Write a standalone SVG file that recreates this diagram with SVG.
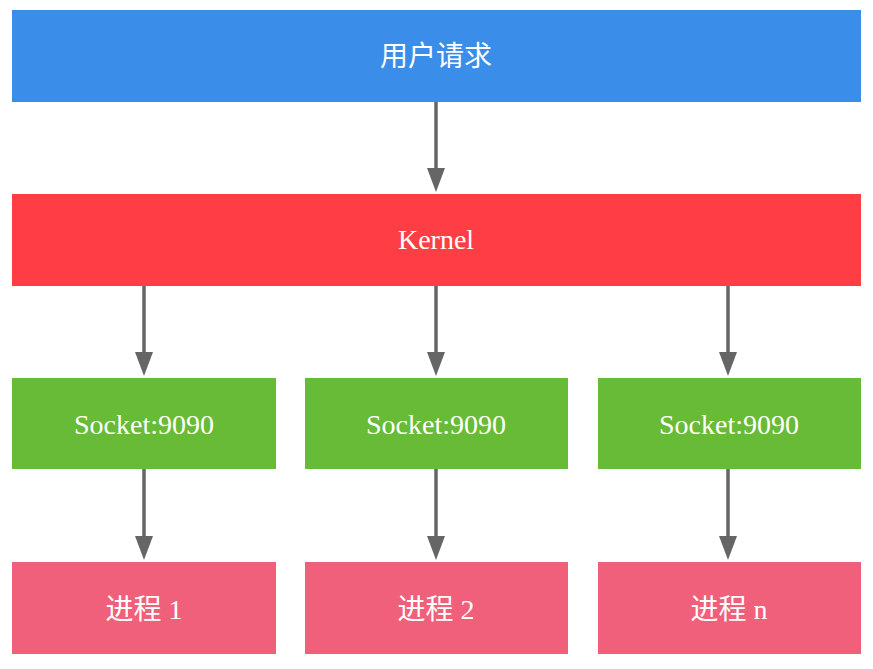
<svg xmlns="http://www.w3.org/2000/svg" width="873" height="669" viewBox="0 0 873 669">
<style>
.t{font-family:"Liberation Serif","Noto Sans CJK SC",serif;font-size:28px;fill:#ffffff;text-anchor:middle}
.c{stroke:#666666;stroke-width:3.5;fill:none}
.h{fill:#666666}
.blue{fill:#3B8DEA}.red{fill:#FE3D44}.green{fill:#67BB36}.pink{fill:#F1607A}
</style>
<rect width="873" height="669" fill="#ffffff"/>
<g id="connectors">
<line class="c" x1="436" y1="102" x2="436" y2="170"/><polygon class="h" points="427,168 445,168 436,192"/>
<line class="c" x1="144" y1="286" x2="144" y2="354"/><polygon class="h" points="135,352 153,352 144,376"/>
<line class="c" x1="436" y1="286" x2="436" y2="354"/><polygon class="h" points="427,352 445,352 436,376"/>
<line class="c" x1="728" y1="286" x2="728" y2="354"/><polygon class="h" points="719,352 737,352 728,376"/>
<line class="c" x1="144" y1="469" x2="144" y2="538"/><polygon class="h" points="135,536 153,536 144,560"/>
<line class="c" x1="436" y1="469" x2="436" y2="538"/><polygon class="h" points="427,536 445,536 436,560"/>
<line class="c" x1="728" y1="469" x2="728" y2="538"/><polygon class="h" points="719,536 737,536 728,560"/>
</g>
<g id="request"><rect class="blue" x="12" y="10" width="849" height="92"/><text class="t" x="436" y="66">用户请求</text></g>
<g id="kernel"><rect class="red" x="12" y="194" width="849" height="92"/><text class="t" x="436" y="249">Kernel</text></g>
<g id="socket1"><rect class="green" x="12" y="378" width="264" height="91"/><text class="t" x="144" y="434">Socket:9090</text></g>
<g id="socket2"><rect class="green" x="305" y="378" width="263" height="91"/><text class="t" x="436" y="434">Socket:9090</text></g>
<g id="socket3"><rect class="green" x="598" y="378" width="263" height="91"/><text class="t" x="729" y="434">Socket:9090</text></g>
<g id="proc1"><rect class="pink" x="12" y="562" width="264" height="92"/><text class="t" x="144" y="619">进程 1</text></g>
<g id="proc2"><rect class="pink" x="305" y="562" width="263" height="92"/><text class="t" x="436" y="619">进程 2</text></g>
<g id="procn"><rect class="pink" x="598" y="562" width="263" height="92"/><text class="t" x="729" y="619">进程 n</text></g>
</svg>
